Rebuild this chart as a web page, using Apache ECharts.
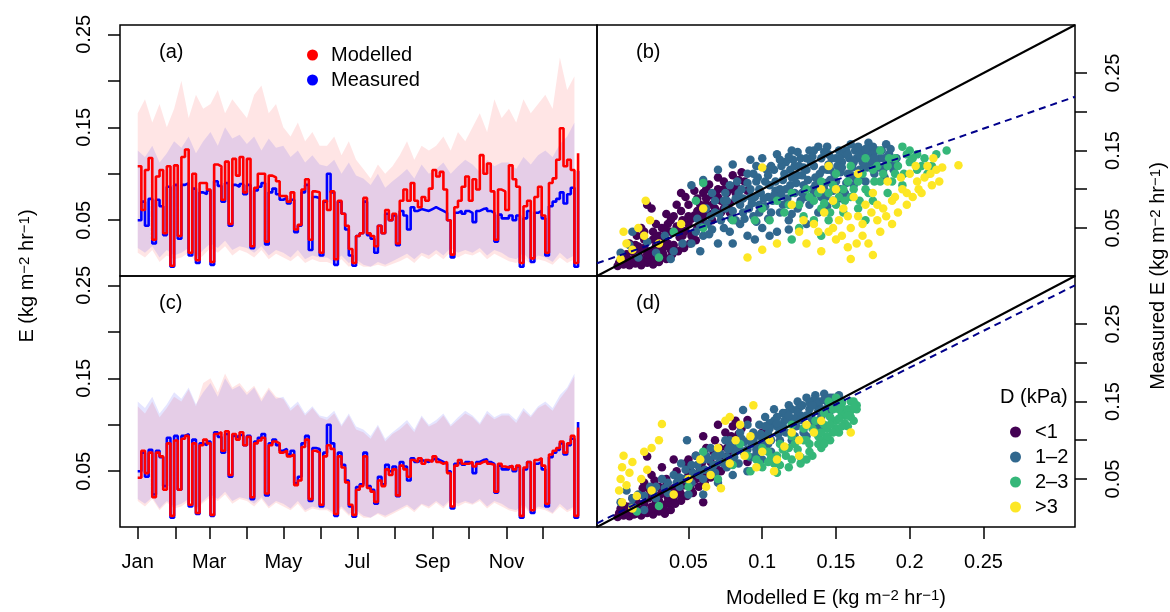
<!DOCTYPE html>
<html>
<head>
<meta charset="utf-8">
<script src="https://cdn.jsdelivr.net/npm/echarts@6/dist/echarts.min.js"></script>
<style>
html, body { margin: 0; padding: 0; background: #fff; }
#chart { width: 1170px; height: 612px; }
</style>
</head>
<body>
<div id="chart"></div>
<script>
// one value every 3 days from 1 Jan
const dayStep = 3;
const measured = [
	.050,.070,.044,.073,.025,.072,.065,.034,.086,.000,
	.088,.030,.088,.090,.012,.084,.004,.080,.078,.082,
	.002,.092,.087,.070,.090,.044,.088,.086,.089,.078,
	.088,.020,.082,.086,.090,.024,.080,.084,.078,.072,
	.074,.068,.072,.037,.044,.080,.088,.018,.075,.074,
	.012,.070,.100,.080,.002,.070,.057,.040,.012,.001,
	.033,.036,.070,.034,.030,.015,.044,.036,.057,.050,
	.055,.023,.060,.055,.040,.064,.060,.062,.061,.060,
	.062,.064,.062,.060,.058,.050,.010,.058,.060,.057,
	.060,.058,.048,.060,.062,.063,.060,.058,.027,.056,
	.052,.052,.055,.050,.055,.000,.052,.060,.005,.058,
	.060,.052,.012,.065,.070,.073,.080,.068,.078,.085,
	.000,.103
];
const modelledA = [
	.108,.061,.104,.117,.029,.097,.104,.036,.108,.001,
	.109,.033,.118,.126,.015,.100,.007,.090,.090,.083,
	.005,.110,.108,.072,.113,.046,.116,.098,.118,.080,
	.116,.022,.085,.100,.100,.027,.098,.096,.092,.076,
	.076,.070,.080,.040,.045,.083,.094,.029,.081,.080,
	.015,.071,.061,.081,.008,.071,.057,.044,.019,.004,
	.033,.036,.074,.036,.033,.022,.044,.036,.061,.050,
	.057,.025,.071,.083,.071,.090,.071,.064,.075,.071,
	.084,.104,.097,.102,.083,.050,.013,.064,.071,.086,
	.097,.071,.094,.083,.120,.100,.111,.081,.029,.083,
	.081,.061,.109,.094,.086,.004,.065,.071,.009,.075,
	.086,.055,.015,.090,.095,.115,.149,.108,.115,.104,
	.004,.122
];
const modelledC = [
	.043,.072,.048,.070,.022,.070,.066,.030,.080,.002,
	.083,.030,.085,.088,.014,.080,.005,.078,.084,.080,
	.003,.090,.092,.072,.093,.046,.090,.084,.092,.078,
	.087,.022,.080,.083,.086,.026,.078,.082,.080,.070,
	.072,.066,.068,.035,.040,.076,.084,.020,.072,.070,
	.014,.066,.078,.074,.004,.066,.054,.038,.014,.003,
	.030,.034,.066,.032,.028,.017,.040,.034,.052,.046,
	.052,.024,.056,.052,.044,.062,.060,.064,.058,.062,
	.060,.066,.060,.058,.060,.048,.012,.056,.062,.058,
	.058,.060,.055,.058,.060,.061,.058,.057,.028,.058,
	.055,.054,.056,.052,.056,.002,.054,.060,.008,.062,
	.064,.056,.015,.068,.072,.075,.082,.070,.080,.088,
	.002,.097
];

// ranges, one value every 6 days
const bandStep = 6;
const measLo = [
	.020,.015,.022,.010,.018,.012, .015,.020,.010,.018, .025,.020,.028,.018,.022,
	.020,.015,.022,.012,.018, .015,.010,.018,.008,.012,.010, .010,.005,.012,.004,.008,
	.002,.000,.005,.002,.006, .010,.014,.008,.015,.012, .018,.012,.020,.015,.018,
	.015,.020,.012,.018,.015, .010,.008,.015,.005,.012, .010,.005,.015,.008,.012
];
const measHi = [
	.125,.118,.130,.112,.122,.135, .128,.140,.122,.135, .145,.130,.150,.138,.142,
	.132,.140,.125,.138,.128, .130,.118,.125,.112,.120,.110, .108,.115,.100,.112,.098,
	.095,.088,.100,.085,.092, .098,.105,.095,.110,.100, .105,.112,.100,.108,.115,
	.110,.102,.115,.108,.112, .112,.105,.118,.110,.120, .125,.118,.132,.140,.155
];
const modALo = [
	.015,.010,.018,.005,.012,.008, .010,.015,.005,.012, .020,.015,.022,.012,.018,
	.015,.010,.018,.008,.014, .010,.006,.012,.004,.008,.005, .005,.002,.008,.000,.004,
	.000,.000,.002,.000,.003, .006,.010,.004,.012,.008, .014,.008,.016,.010,.014,
	.012,.016,.008,.014,.010, .006,.004,.010,.002,.008, .006,.002,.010,.004,.008
];
const modAHi = [
	.165,.180,.155,.175,.150,.170, .200,.160,.185,.170, .175,.190,.165,.180,.170,
	.160,.185,.195,.165,.175, .150,.140,.155,.135,.145,.130, .130,.140,.120,.135,.115,
	.105,.095,.110,.100,.108, .120,.135,.115,.130,.125, .130,.140,.125,.145,.135,
	.150,.165,.145,.180,.160, .170,.155,.180,.165,.175, .185,.170,.225,.190,.205
];
const modCLo = [
	.018,.012,.020,.008,.016,.010, .012,.018,.008,.016, .022,.018,.025,.015,.020,
	.018,.012,.020,.010,.016, .012,.008,.015,.006,.010,.008, .008,.003,.010,.002,.006,
	.000,.000,.004,.000,.004, .008,.012,.006,.014,.010, .016,.010,.018,.012,.016,
	.014,.018,.010,.016,.012, .008,.006,.012,.004,.010, .008,.004,.012,.006,.010
];
const modCHi = [
	.120,.112,.125,.108,.118,.130, .125,.138,.120,.145, .150,.135,.155,.140,.145,
	.135,.142,.128,.140,.130, .128,.115,.122,.110,.118,.108, .105,.112,.098,.110,.095,
	.092,.085,.098,.082,.090, .095,.102,.092,.108,.098, .102,.110,.098,.105,.112,
	.108,.100,.112,.106,.110, .110,.102,.115,.108,.118, .122,.115,.128,.138,.152
];

const monthStarts = [0, 31, 59, 90, 120, 151, 181, 212, 243, 273, 304, 334];
const monthLabelDays = [0, 59, 120, 181, 243, 304];
const monthLabels = ['Jan', 'Mar', 'May', 'Jul', 'Sep', 'Nov'];
const eTicks = [0.05, 0.1, 0.15, 0.2, 0.25];
const eLabels = [0.05, 0.15, 0.25];

// scatter (b): modelled vs measured, split by D class
const bLt1 = [[.002,.001],[.006,.003],[.010,.002],[.014,.004],[.018,.002],[.022,.005],[.026,.003],[.030,.006],
	[.004,.008],[.009,.010],[.013,.007],[.017,.012],[.021,.009],[.025,.014],[.029,.011],[.033,.016],
	[.008,.016],[.012,.020],[.016,.018],[.020,.024],[.024,.020],[.028,.027],[.032,.022],[.036,.030],
	[.010,.030],[.015,.040],[.020,.045],[.028,.055],[.035,.068],[.042,.080],[.048,.090],[.054,.098],
	[.030,.040],[.034,.035],[.038,.045],[.040,.028],[.042,.052],[.044,.038],[.046,.060],[.048,.046],
	[.050,.055],[.052,.040],[.054,.066],[.056,.050],[.058,.072],[.060,.058],[.036,.055],[.040,.065],
	[.045,.072],[.050,.080],[.062,.080],[.064,.068],[.066,.092],[.068,.075],[.070,.100],[.072,.085],
	[.074,.110],[.076,.095],[.078,.082],[.080,.118],[.082,.105],[.084,.090],[.086,.122],[.088,.110],
	[.070,.115],[.060,.095],[.056,.088],[.064,.106],[.078,.070],[.090,.098],[.025,.075],[.022,.080],
	[.018,.050],[.045,.095],
	[.003,.005],[.007,.006],[.011,.005],[.015,.008],[.019,.006],[.023,.010],[.027,.008],[.031,.012],[.035,.010],[.039,.016],
	[.043,.020],[.047,.024],[.051,.030],[.055,.034],[.006,.012],[.014,.014],[.022,.016],[.030,.018],[.038,.022],[.046,.028],
	[.054,.044],[.060,.066],[.066,.060],[.072,.070],[.076,.078],[.082,.095],[.068,.088],[.058,.080],[.050,.065],[.044,.050],
	[.038,.060],[.032,.050],[.026,.045],[.020,.035],[.014,.028],[.026,.035],[.034,.026],[.074,.100],[.084,.112],[.062,.100],
	[.040,.045],[.046,.040],[.052,.062],[.056,.072],[.062,.088],[.066,.080],[.070,.090],[.074,.075],[.080,.100],[.034,.048],
	[.028,.038],[.016,.026]];
const b1to2 = [[.004,.018],[.010,.028],[.016,.012],[.022,.032],[.028,.018],[.034,.040],[.040,.020],[.046,.030],[.012,.045],[.038,.010],
	[.052,.030],[.056,.062],[.060,.040],[.062,.075],[.066,.048],[.068,.085],[.070,.030],[.072,.060],[.075,.095],[.078,.045],
	[.080,.072],[.083,.110],[.085,.055],[.087,.088],[.090,.040],[.090,.120],[.092,.100],[.094,.065],[.096,.130],[.098,.080],
	[.100,.050],[.100,.140],[.102,.110],[.104,.090],[.106,.070],[.108,.125],[.110,.145],[.110,.045],[.112,.100],[.114,.080],
	[.116,.135],[.118,.060],[.120,.115],[.120,.150],[.122,.095],[.124,.075],[.126,.140],[.128,.105],[.130,.055],[.130,.125],
	[.132,.150],[.134,.090],[.136,.115],[.138,.070],[.140,.140],[.142,.100],[.144,.155],[.146,.125],[.148,.085],[.150,.110],
	[.152,.150],[.154,.135],[.156,.095],[.158,.120],[.160,.158],[.162,.105],[.164,.140],[.166,.125],[.168,.150],[.170,.110],
	[.172,.160],[.174,.135],[.176,.120],[.178,.150],[.180,.140],[.182,.125],[.184,.158],[.186,.145],[.188,.135],
	[.135,.150],[.125,.130],[.115,.120],[.105,.105],[.095,.090],[.085,.080],[.075,.075],[.065,.065],[.145,.145],[.155,.145],
	[.165,.155],[.175,.145],[.058,.020],[.080,.030],[.095,.035],[.105,.040],[.118,.048],
	[.052,.105],[.060,.112],[.070,.125],[.080,.132],[.092,.138],
	[.097,.115],[.103,.125],[.109,.098],[.113,.130],[.117,.088],[.121,.138],[.127,.118],[.133,.135],[.137,.100],[.141,.125],
	[.143,.090],[.147,.140],[.151,.130],[.153,.100],[.157,.150],[.161,.128],[.163,.115],[.167,.140],[.171,.128],[.173,.150],
	[.177,.135],[.181,.150],[.183,.140],[.091,.075],[.099,.095],[.107,.085],[.119,.105],[.129,.090],[.139,.110],[.149,.120],
	[.055,.045],[.063,.055],[.071,.068],[.079,.062],[.087,.070],[.093,.082],[.101,.088],[.109,.110],[.113,.092],[.119,.125],
	[.123,.108],[.127,.095],[.131,.112],[.135,.130],[.139,.120],[.143,.108],[.145,.132],[.149,.100],[.153,.122],[.157,.108],
	[.159,.140],[.163,.150],[.167,.118],[.169,.132],[.171,.145],[.175,.155],[.179,.128],[.183,.115],[.187,.152],[.189,.125],
	[.191,.140],[.096,.110],[.104,.118],[.112,.138],[.118,.142],[.124,.148],[.128,.128],[.134,.142],[.138,.155],[.142,.148],
	[.146,.112],[.150,.140],[.154,.128],[.158,.145],[.162,.135],[.166,.145],[.170,.152],[.078,.105],[.086,.100],[.094,.120],
	[.066,.095],[.074,.085],[.082,.088],[.090,.108],[.098,.100],[.106,.130],[.114,.112],[.122,.130],[.130,.140],[.136,.105],
	[.144,.125],[.152,.140],[.160,.118],[.168,.135],[.176,.140],[.184,.132],
	[.058,.052],[.064,.042],[.068,.070],[.074,.050],[.076,.085],[.082,.060],[.084,.095],[.088,.062],[.092,.090],[.096,.058],
	[.098,.070],[.102,.078],[.104,.062],[.108,.092],[.112,.070],[.116,.100],[.120,.068],[.124,.118],[.126,.085],[.132,.080],
	[.134,.100],[.140,.090],[.144,.078],[.148,.098],[.152,.088]];
const b2to3 = [[.095,.060],[.100,.075],[.105,.060],[.110,.085],[.115,.070],[.120,.095],[.125,.080],[.125,.050],[.130,.100],[.135,.085],
	[.135,.060],[.140,.110],[.140,.075],[.145,.095],[.145,.060],[.150,.120],[.150,.080],[.155,.100],[.155,.070],[.160,.130],
	[.160,.090],[.165,.110],[.165,.075],[.170,.140],[.170,.100],[.175,.125],[.175,.085],[.180,.150],[.180,.110],[.185,.095],
	[.190,.140],[.190,.120],[.195,.155],[.195,.105],[.200,.135],[.200,.150],[.205,.125],[.205,.145],[.210,.140],[.212,.120],
	[.215,.130],[.218,.145],[.225,.150],[.185,.130],[.170,.060],[.140,.040],[.120,.035],[.060,.050],[.040,.045],[.030,.012],
	[.080,.060],[.055,.085],[.060,.108],
	[.132,.090],[.138,.095],[.142,.082],[.148,.105],[.152,.090],[.158,.110],[.162,.100],[.168,.120],[.172,.095],[.178,.130],
	[.182,.120],[.188,.110],[.192,.130],[.198,.145],[.202,.140],[.208,.130],[.196,.120],[.186,.140],[.176,.110],[.166,.085],
	[.156,.085],[.146,.070],[.128,.065],[.118,.080]];
const bGt3 = [[.125,.045],[.130,.030],[.135,.055],[.140,.020],[.142,.070],[.145,.045],[.148,.085],[.150,.035],[.152,.060],[.155,.075],
	[.158,.025],[.160,.050],[.162,.090],[.165,.065],[.168,.040],[.170,.080],[.172,.030],[.175,.095],[.178,.060],[.180,.045],
	[.182,.075],[.185,.110],[.188,.055],[.190,.090],[.192,.070],[.195,.100],[.198,.080],[.200,.120],[.202,.090],[.205,.110],
	[.208,.095],[.210,.115],[.212,.130],[.215,.105],[.218,.125],[.220,.110],[.233,.131],[.160,.010],[.175,.015],[.150,.100],
	[.165,.120],[.140,.100],[.120,.080],[.110,.030],[.100,.022],[.090,.012],
	[.004,.010],[.008,.030],[.012,.022],[.016,.050],[.020,.040],[.024,.060],[.006,.045],[.030,.030],[.045,.055],[.060,.075],
	[.100,.128],[.145,.130],[.021,.085],
	[.128,.060],[.138,.045],[.148,.050],[.158,.065],[.168,.055],[.178,.080],[.188,.085],[.198,.095],[.206,.100],[.214,.120],
	[.184,.065],[.174,.070],[.164,.030],[.154,.040],[.194,.115],[.204,.130],[.216,.140],[.222,.128]];

// scatter (d)
const dLt1 = [[.002,.001],[.006,.003],[.010,.002],[.014,.005],[.018,.003],[.022,.006],[.026,.004],[.030,.008],[.034,.005],[.038,.010],
	[.005,.010],[.010,.014],[.015,.010],[.020,.018],[.025,.014],[.030,.022],[.035,.018],[.040,.026],[.012,.025],[.018,.030],
	[.024,.035],[.030,.040],[.035,.050],[.040,.038],[.042,.060],[.045,.045],[.048,.070],[.050,.055],[.052,.035],[.055,.080],
	[.058,.062],[.060,.048],[.062,.090],[.065,.072],[.068,.100],[.070,.082],[.072,.060],[.075,.110],[.078,.092],[.080,.118],
	[.083,.100],[.086,.115],[.088,.085],[.045,.030],[.050,.075],[.060,.105],[.070,.120],[.082,.125],[.020,.045],[.025,.055],
	[.032,.065],[.040,.075],[.038,.030],[.030,.010],[.090,.072],[.100,.110],[.060,.020],[.022,.079],[.090,.126],
	[.003,.006],[.008,.008],[.013,.004],[.017,.010],[.021,.008],[.025,.012],[.029,.016],[.033,.012],[.037,.020],[.041,.018],
	[.045,.022],[.049,.028],[.053,.032],[.057,.040],[.061,.045],[.065,.052],[.069,.064],[.073,.072],[.077,.080],[.081,.088],
	[.085,.098],[.007,.015],[.015,.020],[.023,.025],[.031,.030],[.039,.036],[.047,.042],[.055,.050],[.063,.058],[.071,.090],
	[.079,.105],[.067,.085],[.059,.070],[.051,.062],[.043,.052],[.035,.042],[.027,.048],[.019,.038],
	[.004,.012],[.016,.006],[.028,.020],[.036,.026],[.044,.034],[.052,.044],[.060,.055],[.068,.068],[.076,.090],[.084,.108]];
const d1to2 = [[.004,.020],[.008,.035],[.012,.015],[.016,.030],[.020,.010],[.024,.040],[.028,.025],[.032,.050],[.036,.032],[.040,.055],
	[.044,.040],[.048,.062],[.052,.045],[.056,.068],[.060,.050],[.064,.075],[.068,.058],[.072,.082],[.076,.065],[.080,.090],
	[.084,.070],[.088,.098],[.092,.078],[.094,.110],[.096,.088],[.098,.120],[.100,.095],[.102,.130],[.104,.108],[.106,.085],
	[.108,.140],[.110,.118],[.112,.100],[.114,.135],[.116,.110],[.118,.145],[.120,.125],[.122,.105],[.124,.150],[.126,.132],
	[.128,.115],[.130,.155],[.132,.140],[.134,.125],[.136,.158],[.138,.145],[.140,.130],[.142,.160],[.144,.150],[.146,.138],
	[.148,.155],[.150,.145],[.152,.158],[.154,.150],[.090,.120],[.085,.110],[.075,.100],[.065,.090],[.055,.080],[.045,.070],
	[.110,.130],[.120,.140],[.100,.075],[.090,.060],[.080,.055],[.070,.045],[.130,.105],[.140,.115],[.060,.030],[.050,.030],
	[.115,.125],[.125,.142],[.135,.152],[.105,.122],[.095,.105],[.087,.139],[.049,.100],[.078,.100],
	[.105,.115],[.111,.108],[.117,.128],[.123,.118],[.127,.145],[.133,.130],[.139,.150],[.143,.140],[.147,.148],[.099,.108],
	[.093,.095],[.087,.085],[.081,.078],[.077,.088],[.071,.072],[.067,.068],[.061,.062],[.057,.055],[.053,.058],[.047,.050],
	[.012,.025],[.020,.028],[.028,.040],[.036,.045],[.044,.052],[.052,.068],[.060,.075],[.068,.080],[.076,.078],[.084,.092],
	[.092,.102],[.100,.102],[.108,.125],[.116,.135],[.124,.135],[.132,.148],[.140,.140],[.148,.145],[.114,.118],[.122,.128],
	[.130,.132],[.138,.138],[.146,.155],[.106,.100],[.098,.092],[.090,.088],[.082,.085],[.074,.070],[.066,.062],[.058,.060],
	[.050,.048],[.042,.045],[.034,.038],[.026,.032],[.136,.120],[.128,.110],[.120,.100],[.112,.112],[.104,.095],[.096,.082],
	[.062,.080],[.070,.085],[.078,.092],[.086,.102],[.094,.100],[.102,.118],[.110,.122],[.118,.132],[.126,.126],[.134,.145],
	[.142,.152]];
const d2to3 = [[.092,.060],[.096,.075],[.100,.065],[.104,.085],[.108,.070],[.112,.095],[.116,.080],[.120,.105],[.124,.088],[.126,.070],
	[.128,.115],[.132,.095],[.134,.080],[.136,.125],[.138,.105],[.140,.090],[.142,.135],[.144,.115],[.146,.100],[.148,.140],
	[.150,.125],[.152,.110],[.154,.148],[.156,.132],[.158,.118],[.160,.150],[.160,.138],[.162,.125],[.164,.145],[.150,.155],
	[.145,.150],[.155,.140],[.118,.065],[.110,.058],[.130,.075],[.140,.100],[.100,.090],[.090,.080],[.080,.068],[.060,.085],
	[.050,.040],[.030,.015],[.015,.008],[.070,.050],[.085,.095],[.120,.120],
	[.098,.070],[.106,.078],[.114,.088],[.122,.095],[.130,.100],[.136,.110],[.142,.120],[.148,.125],[.154,.135],[.158,.140],
	[.162,.150],[.156,.122],[.150,.115],[.144,.105],[.138,.095],[.132,.085],[.126,.078],[.120,.075],[.112,.068],[.104,.072],
	[.110,.080],[.118,.090],[.128,.100],[.134,.115],[.146,.130],[.152,.140],[.160,.130],[.164,.140],
	[.140,.110],[.146,.120],[.152,.128],[.158,.132],[.162,.142],[.154,.118],[.148,.110],[.142,.095]];
const dGt3 = [[.003,.035],[.004,.050],[.005,.065],[.006,.080],[.008,.042],[.010,.058],[.012,.072],[.015,.028],[.018,.050],[.022,.062],
	[.025,.035],[.005,.020],[.012,.012],[.032,.121],[.025,.090],[.030,.100],[.020,.085],[.040,.030],[.050,.050],[.058,.075],
	[.065,.055],[.070,.090],[.078,.070],[.082,.100],[.088,.080],[.092,.105],[.096,.065],[.100,.085],[.105,.100],[.110,.075],
	[.115,.092],[.120,.110],[.125,.100],[.130,.120],[.135,.110],[.140,.125],[.125,.080],[.108,.060],[.062,.040],[.072,.038],
	[.160,.110],[.078,.130],[.085,.120],[.094,.145],[.075,.125]];

// 1:1 line and fitted lines, end points at the panel edges
const oneToOne = [[-0.012, -0.012], [0.312, 0.312]];
const fitB = [[-0.012, 0.0044], [0.312, 0.2194]];
const fitD = [[-0.012, -0.0072], [0.312, 0.300]];

const dClasses = ['<1', '1–2', '2–3', '>3'];
const dColors = ['#440154', '#31688E', '#35B779', '#FDE725'];

const font = '"Liberation Sans", Arial, Helvetica, sans-serif';

function onDays(values, step) {
	return values.map((v, i) => [i * step, v]);
}

// shaded range drawn as one polygon through the axis scales
function bandSeries(ax, lo, hi, color) {
	return {
		type: 'custom', xAxisIndex: ax, yAxisIndex: ax, silent: true, z: 1,
		data: lo.map((v, i) => [i * bandStep, v, hi[i]]),
		renderItem: function(params, api) {
			if (params.dataIndex !== 0) return null;
			const top = hi.map((h, i) => api.coord([i * bandStep, h]));
			const bottom = lo.map((l, i) => api.coord([i * bandStep, l])).reverse();
			return {
				type: 'polygon',
				shape: { points: top.concat(bottom) },
				style: { fill: color }
			};
		}
	};
}

function lineSeries(name, ax, values, color, width) {
	return {
		type: 'line', name: name, xAxisIndex: ax, yAxisIndex: ax, z: 3,
		data: onDays(values, dayStep), step: 'end', symbol: 'none',
		color: color, lineStyle: { color: color, width: width }
	};
}

function scatterSeries(ax, lists) {
	return lists.map((pts, k) => ({
		type: 'scatter', name: dClasses[k], xAxisIndex: ax, yAxisIndex: ax,
		data: pts, symbolSize: 8.5, color: dColors[k],
		itemStyle: { color: dColors[k], opacity: 1 }
	}));
}

function refLines(ax, fit) {
	return [{
		type: 'line', xAxisIndex: ax, yAxisIndex: ax, data: oneToOne, symbol: 'none', silent: true,
		lineStyle: { color: '#000', width: 2 }, z: 5
	}, {
		type: 'line', xAxisIndex: ax, yAxisIndex: ax, data: fit, symbol: 'none', silent: true,
		lineStyle: { color: '#00008B', width: 2, type: [7, 5] }, z: 5
	}];
}

const tickStyle = { show: true, length: 12, lineStyle: { color: '#000', width: 1.5 } };
const labelStyle = { show: true, fontSize: 20, color: '#000', fontFamily: font };
const fmt = v => String(v);

function axis(gridIndex, min, max, extra) {
	return Object.assign({
		gridIndex: gridIndex, type: 'value', min: min, max: max,
		axisLine: { show: false, onZero: false },
		axisTick: { show: false },
		axisLabel: { show: false },
		splitLine: { show: false }
	}, extra || {});
}

function eAxis(gi, min, max, pos, margin) {
	return axis(gi, min, max, {
		position: pos,
		axisTick: Object.assign({ customValues: eTicks }, tickStyle),
		axisLabel: Object.assign({ rotate: 90, margin: margin, customValues: eLabels, formatter: fmt }, labelStyle)
	});
}

const gridBox = { show: true, borderColor: '#000', borderWidth: 1.5, backgroundColor: 'transparent' };

function txt(text, x, y) {
	return {
		type: 'text', x: x, y: y, silent: true, z: 10,
		style: {
			text: text, fontSize: 20, fontFamily: font, fill: '#000',
			align: 'left', verticalAlign: 'middle', textAlign: 'left', textVerticalAlign: 'middle'
		}
	};
}

function titleText(text, x, y, rotation) {
	return {
		type: 'text', x: x, y: y, rotation: rotation, silent: true,
		style: {
			text: text, fontSize: 20, fontFamily: font, fill: '#000',
			align: 'center', verticalAlign: 'middle', textAlign: 'center', textVerticalAlign: 'middle',
			rich: { s: { fontSize: 15, fontFamily: font, fill: '#000', verticalAlign: 'top' } }
		}
	};
}

const chart = echarts.init(document.getElementById('chart'), null, { renderer: 'canvas' });

const option = {
	animation: false,
	backgroundColor: '#fff',
	textStyle: { fontFamily: font },
	grid: [
		Object.assign({ left: 120, top: 25, width: 477, height: 251 }, gridBox),
		Object.assign({ left: 597, top: 25, width: 478, height: 251 }, gridBox),
		Object.assign({ left: 120, top: 276, width: 477, height: 251 }, gridBox),
		Object.assign({ left: 597, top: 276, width: 478, height: 251 }, gridBox)
	],
	xAxis: [
		axis(0, -14.6, 378.6),
		axis(1, -0.012, 0.312),
		axis(2, -14.6, 378.6, {
			position: 'bottom',
			axisTick: Object.assign({ customValues: monthStarts }, tickStyle),
			axisLabel: Object.assign({
				margin: 25, customValues: monthLabelDays,
				formatter: v => monthLabels[monthLabelDays.indexOf(v)]
			}, labelStyle)
		}),
		axis(3, -0.012, 0.312, {
			position: 'bottom',
			axisTick: Object.assign({ customValues: eTicks }, tickStyle),
			axisLabel: Object.assign({ margin: 25, customValues: eTicks, formatter: fmt }, labelStyle)
		})
	],
	yAxis: [
		eAxis(0, -0.01, 0.26, 'left', 26),
		eAxis(1, -0.012, 0.312, 'right', 28),
		eAxis(2, -0.01, 0.26, 'left', 26),
		eAxis(3, -0.012, 0.312, 'right', 28)
	],
	legend: [{
		data: ['Modelled', 'Measured'], left: 302, top: 40, orient: 'vertical',
		icon: 'circle', itemWidth: 11, itemHeight: 11, itemGap: 5, selectedMode: false,
		textStyle: { fontSize: 20, lineHeight: 20, color: '#000', fontFamily: font, padding: [0, 0, 0, 8] }
	}, {
		data: dClasses, left: 1005, top: 417, orient: 'vertical',
		icon: 'circle', itemWidth: 11, itemHeight: 11, itemGap: 5, selectedMode: false,
		textStyle: { fontSize: 20, lineHeight: 20, color: '#000', fontFamily: font, padding: [0, 0, 0, 9] }
	}],
	graphic: [
		txt('(a)', 159, 52), txt('(b)', 636, 52), txt('(c)', 159, 303), txt('(d)', 636, 303),
		txt('D (kPa)', 1000, 397),
		titleText('E (kg m{s|−2} hr{s|−1})', 27, 276, Math.PI / 2),
		titleText('Measured E (kg m{s|−2} hr{s|−1})', 1158, 276, Math.PI / 2),
		titleText('Modelled E (kg m{s|−2} hr{s|−1})', 836, 598, 0)
	],
	series: [].concat(
		[bandSeries(0, modALo, modAHi, 'rgba(255,0,0,0.1)'),
		 bandSeries(0, measLo, measHi, 'rgba(0,0,255,0.1)'),
		 bandSeries(2, modCLo, modCHi, 'rgba(255,0,0,0.1)'),
		 bandSeries(2, measLo, measHi, 'rgba(0,0,255,0.1)')],
		[lineSeries('Measured', 0, measured, '#0000FF', 2.6),
		 lineSeries('Modelled', 0, modelledA, '#FF0000', 2.6),
		 lineSeries('Measured', 2, measured, '#0000FF', 2.6),
		 lineSeries('Modelled', 2, modelledC, '#FF0000', 2.6)],
		scatterSeries(1, [bLt1, b1to2, b2to3, bGt3]),
		scatterSeries(3, [dLt1, d1to2, d2to3, dGt3]),
		refLines(1, fitB),
		refLines(3, fitD)
	)
};

chart.setOption(option);
</script>
</body>
</html>
